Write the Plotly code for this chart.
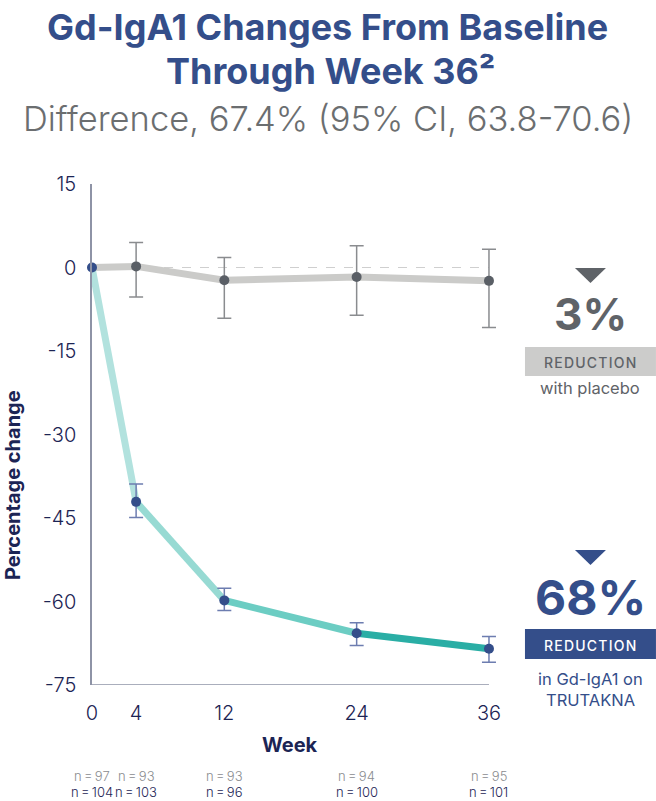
import plotly.graph_objects as go

# ---- data ----
weeks = [0, 4, 12, 24, 36]
placebo = [0.0, 0.2, -2.3, -1.7, -2.4]
placebo_upper = [None, 4.5, 1.8, 3.9, 3.3]
placebo_lower = [None, -5.3, -9.1, -8.6, -10.8]
trutakna = [0.0, -42.1, -59.8, -65.7, -68.5]
trutakna_upper = [None, -38.9, -57.6, -63.8, -66.3]
trutakna_lower = [None, -44.9, -61.6, -67.9, -70.9]
n_placebo = [97, 93, 93, 94, 95]
n_trutakna = [104, 103, 96, 100, 101]
y_ticks = [15, 0, -15, -30, -45, -60, -75]

NAVY = "#344e8a"
DARK = "#1c2454"
GREY_TXT = "#5f6368"
AXIS = "#8e93a6"
seg_colors = ["#b2e2de", "#97dad3", "#6ccdc3", "#2aaea5"]

W, H = 656, 801
X_MAX = 37                      # axis range end (room for the week-36 caps)
L, T, B = 92, 184, 685
R = L + X_MAX * (489 - L) / 36  # right edge of plot area in px


def px(xp):
    return (xp - L) / (R - L)


def py(yp):
    return (B - yp) / (B - T)


fig = go.Figure()

# zero reference
fig.add_shape(type="line", x0=weeks[0], x1=weeks[-1], y0=0, y1=0, xref="x", yref="y",
              line=dict(color="#cfcfcf", width=1.2, dash="dash"), layer="below")
# x axis line (ends at the last week)
fig.add_shape(type="line", x0=weeks[0], x1=weeks[-1], y0=y_ticks[-1], y1=y_ticks[-1],
              xref="x", yref="y", line=dict(color=AXIS, width=1.5), layer="above")

# placebo line
fig.add_trace(go.Scatter(x=weeks, y=placebo, mode="lines",
                         line=dict(color="#cbcbc9", width=7), cliponaxis=False,
                         hoverinfo="skip", showlegend=False))

# treatment line segments with progressive colour
for i in range(len(weeks) - 1):
    fig.add_trace(go.Scatter(x=weeks[i:i + 2], y=trutakna[i:i + 2], mode="lines",
                             line=dict(color=seg_colors[i], width=7), cliponaxis=False,
                             hoverinfo="skip", showlegend=False))

pw = weeks[1:]
# placebo markers + error bars
fig.add_trace(go.Scatter(
    x=pw, y=placebo[1:], mode="markers",
    marker=dict(color="#5a5f66", size=10),
    error_y=dict(type="data", symmetric=False,
                 array=[u - v for u, v in zip(placebo_upper[1:], placebo[1:])],
                 arrayminus=[v - l for l, v in zip(placebo_lower[1:], placebo[1:])],
                 color="#8a8c8f", thickness=1.5, width=7),
    cliponaxis=False, showlegend=False))

# treatment markers + error bars
fig.add_trace(go.Scatter(
    x=pw, y=trutakna[1:], mode="markers",
    marker=dict(color=NAVY, size=10),
    error_y=dict(type="data", symmetric=False,
                 array=[u - v for u, v in zip(trutakna_upper[1:], trutakna[1:])],
                 arrayminus=[v - l for l, v in zip(trutakna_lower[1:], trutakna[1:])],
                 color="#6d7db0", thickness=1.5, width=7),
    cliponaxis=False, showlegend=False))

# baseline marker
fig.add_trace(go.Scatter(x=[weeks[0]], y=[trutakna[0]], mode="markers",
                         marker=dict(color=NAVY, size=10), cliponaxis=False,
                         showlegend=False))

TICKFONT = dict(family="Inter", size=20, color=DARK, weight=300)

fig.update_xaxes(range=[0, X_MAX], tickvals=weeks, ticktext=[str(w) for w in weeks],
                 showline=False, showgrid=False, zeroline=False, ticks="",
                 tickfont=TICKFONT, ticklabelstandoff=14)
fig.update_yaxes(range=[y_ticks[-1], y_ticks[0]], tickvals=y_ticks,
                 ticktext=[str(t) for t in y_ticks],
                 showline=True, linecolor=AXIS, linewidth=1.5,
                 showgrid=False, zeroline=False, ticks="", tickfont=TICKFONT,
                 ticklabelstandoff=10)

ann = []
# titles
ann.append(dict(x=px(328), y=py(27), text="<b>Gd-IgA1 Changes From Baseline</b>",
                font=dict(family="Inter", size=36, color=NAVY, weight=800)))
ann.append(dict(x=px(331), y=py(71), text="<b>Through Week 36²</b>",
                font=dict(family="Inter", size=36, color=NAVY, weight=800)))
ann.append(dict(x=px(328), y=py(119), text="Difference, 67.4% (95% CI, 63.8-70.6)",
                font=dict(family="Inter", size=34.5, color="#6b6e70", weight=300)))
# axis titles
ann.append(dict(x=px(13), y=py(485), text="<b>Percentage change</b>", textangle=-90,
                font=dict(family="Inter", size=20, color=DARK)))
ann.append(dict(x=px(290), y=py(745), text="<b>Week</b>",
                font=dict(family="Inter", size=20, color=DARK)))
# n labels
TS = "\u2009"
for w, a, b in zip(weeks, n_placebo, n_trutakna):
    ann.append(dict(x=w, xref="x", y=py(776), text=f"n{TS}={TS}{a}",
                    font=dict(family="Inter", size=13, color="#8a8c8f", weight=300)))
    ann.append(dict(x=w, xref="x", y=py(792), text=f"n{TS}={TS}{b}",
                    font=dict(family="Inter", size=13, color=DARK, weight=300)))

# right callouts
cx = 590.5
SPACED = "\u200a".join("REDUCTION")
ann.append(dict(x=px(cx), y=py(314), text="<b>3%</b>",
                font=dict(family="Inter", size=44, color=GREY_TXT)))
ann.append(dict(x=px(cx), y=py(362), text=SPACED,
                font=dict(family="Inter", size=14, color=GREY_TXT, weight=500)))
ann.append(dict(x=px(cx), y=py(388), text="with placebo",
                font=dict(family="Inter", size=16.5, color=GREY_TXT)))
ann.append(dict(x=px(cx), y=py(597), text="<b>68%</b>",
                font=dict(family="Inter", size=48, color=NAVY)))
ann.append(dict(x=px(cx), y=py(645), text=SPACED,
                font=dict(family="Inter", size=14, color="white", weight=500)))
ann.append(dict(x=px(cx), y=py(679), text="in Gd-IgA1 on",
                font=dict(family="Inter", size=16.5, color=NAVY)))
ann.append(dict(x=px(cx), y=py(700), text="TRUTAKNA",
                font=dict(family="Inter", size=16.5, color=NAVY)))

for a in ann:
    a.setdefault("xref", "paper")
    a.setdefault("yref", "paper")
    a.update(showarrow=False, xanchor="center", yanchor="middle")
fig.update_layout(annotations=ann)

# boxes and triangles
shapes = [
    dict(type="rect", x0=px(525), x1=px(656), y0=py(347), y1=py(376),
         fillcolor="#cccccb", line=dict(width=0)),
    dict(type="rect", x0=px(525), x1=px(656), y0=py(629), y1=py(659),
         fillcolor=NAVY, line=dict(width=0)),
    dict(type="path",
         path=f"M {px(575)} {py(268)} L {px(606)} {py(268)} L {px(590.5)} {py(283)} Z",
         fillcolor=GREY_TXT, line=dict(width=0)),
    dict(type="path",
         path=f"M {px(575)} {py(550)} L {px(606)} {py(550)} L {px(590.5)} {py(565)} Z",
         fillcolor=NAVY, line=dict(width=0)),
]
for s in shapes:
    s.update(xref="paper", yref="paper")
    fig.add_shape(**s)

fig.update_layout(width=W, height=H, margin=dict(l=L, r=W - R, t=T, b=H - B),
                  plot_bgcolor="white", paper_bgcolor="white",
                  font=dict(family="Inter"), showlegend=False)

fig.write_html("out.html")
